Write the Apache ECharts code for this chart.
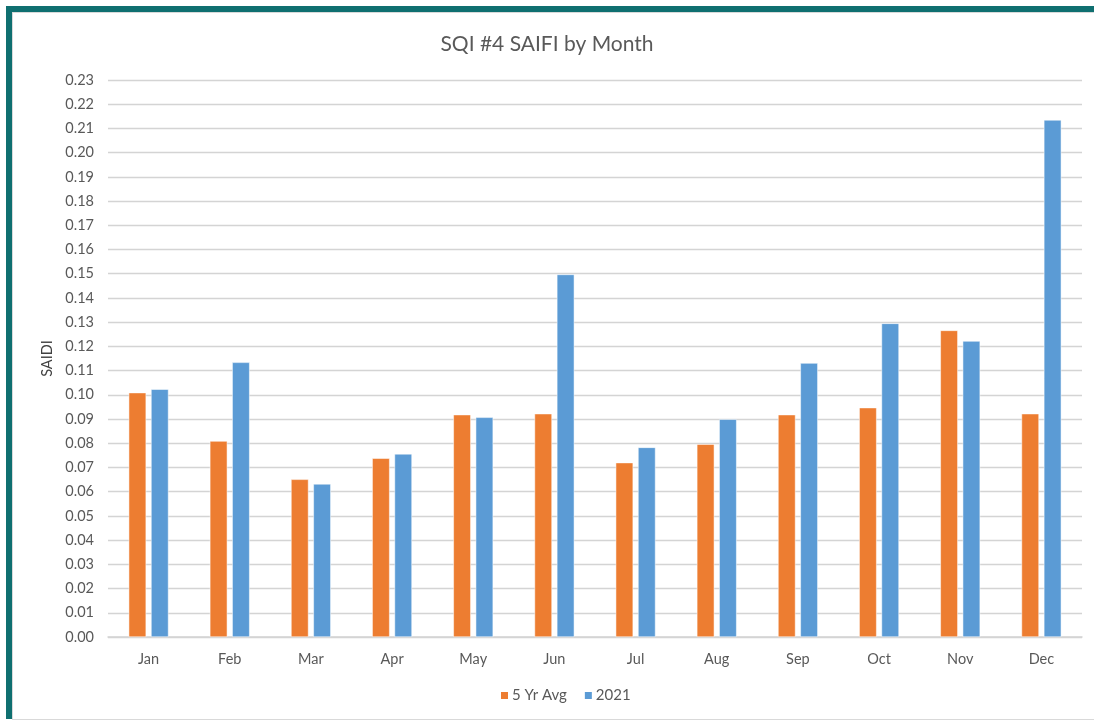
<!DOCTYPE html>
<html>
<head>
<meta charset="utf-8">
<script src="https://cdn.jsdelivr.net/npm/echarts@6/dist/echarts.min.js"></script>
<style>
html,body{margin:0;padding:0;background:#fff;}
#frame{position:absolute;left:6px;top:6px;width:1200px;height:713px;border-top:6px solid #0f6f70;border-left:6px solid #0f6f70;box-sizing:border-box;}
#inner{position:absolute;left:12px;top:12px;width:1200px;height:708px;border-top:1px solid #d9d9d9;border-left:1px solid #d9d9d9;border-bottom:1px solid #d9d9d9;box-sizing:border-box;}
#chart{position:absolute;left:0;top:0;width:1094px;height:722px;}
</style>
</head>
<body>
<div id="frame"></div>
<div id="inner"></div>
<div id="chart"></div>
<script>
const categories = ['Jan','Feb','Mar','Apr','May','Jun','Jul','Aug','Sep','Oct','Nov','Dec'];
const avg5yr = [0.1009,0.0809,0.0651,0.0738,0.0918,0.0922,0.0720,0.0796,0.0918,0.0947,0.1266,0.0922];
const y2021 = [0.1023,0.1134,0.0632,0.0756,0.0907,0.1497,0.0783,0.0899,0.1131,0.1295,0.1222,0.2135];
const seriesNames = ['5 Yr Avg','2021'];
const titleText = 'SQI #4 SAIFI by Month';
const yAxisName = 'SAIDI';

const font = 'Lato, "Open Sans", sans-serif';
const chart = echarts.init(document.getElementById('chart'), null, {renderer:'canvas'});
chart.setOption({
  backgroundColor: 'transparent',
  animation: false,
  title: {
    text: titleText, left: 'center', top: 29,
    textStyle: {fontFamily: font, fontSize: 21, fontWeight: 'normal', color: '#595959'}
  },
  legend: {
    data: seriesNames, bottom: 14, left: 494,
    itemWidth: 9, itemHeight: 9, itemGap: 16, icon: 'rect',
    textStyle: {fontFamily: font, fontSize: 15, color: '#595959', padding:[0,0,0,-2]}
  },
  grid: {left: 108, right: 12, top: 80, bottom: 85, containLabel: false},
  xAxis: {
    type: 'category', data: categories,
    axisLine: {lineStyle: {color: '#d4d4d4', width: 1.5}},
    axisTick: {show: false},
    axisLabel: {fontFamily: font, fontSize: 14.5, color: '#595959', margin: 15}
  },
  yAxis: {
    type: 'value', min: 0, max: 0.23, interval: 0.01,
    name: yAxisName, nameLocation: 'middle', nameGap: 53, nameRotate: 90,
    nameTextStyle: {fontFamily: font, fontSize: 14.5, color: '#404040'},
    axisLine: {show: false}, axisTick: {show: false},
    axisLabel: {fontFamily: font, fontSize: 14.5, color: '#595959', margin: 14,
      formatter: v => v.toFixed(2)},
    splitLine: {lineStyle: {color: '#d4d4d4', width: 1.3}}
  },
  series: [
    {name: seriesNames[0], type: 'bar', data: avg5yr, barWidth: '21.5%', barGap: '28%',
     itemStyle: {color: '#ed7d31', borderColor: '#fff', borderWidth: 0.5}},
    {name: seriesNames[1], type: 'bar', data: y2021, barWidth: '21.5%', barGap: '28%',
     itemStyle: {color: '#5b9bd5', borderColor: '#fff', borderWidth: 0.5}}
  ]
});
</script>
</body>
</html>
